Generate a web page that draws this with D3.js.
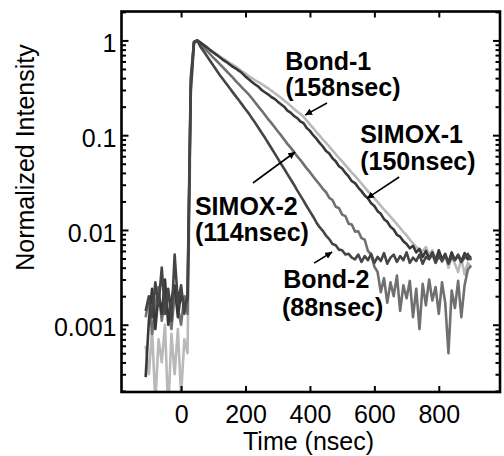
<!DOCTYPE html>
<html>
<head>
<meta charset="utf-8">
<script src="https://cdn.jsdelivr.net/npm/d3@7"></script>
<style>
  html, body { margin: 0; padding: 0; background: #fff; }
  svg { display: block; font-family: "Liberation Sans", Arial, sans-serif; }
</style>
</head>
<body>
<div id="chart"></div>
<script>
// time axis (nsec), shared by all traces
const times = [-110, -100, -90, -80, -70, -60, -50, -40, -30, -20, -10, 0, 10, 20,
  30, 40,
  50, 60, 70, 80, 90, 100, 110, 120, 130, 140,
  150, 160, 170, 180, 190, 200, 210, 220, 230, 240,
  250, 260, 270, 280, 290, 300, 310, 320, 330, 340,
  350, 360, 370, 380, 390, 400, 410, 420, 430, 440,
  450, 460, 470, 480, 490, 500, 510, 520, 530, 540,
  550, 560, 570, 580, 590, 600, 610, 620, 630, 640,
  650, 660, 670, 680, 690, 700, 710, 720, 730, 740,
  750, 760, 770, 780, 790, 800, 810, 820, 830, 840, 850, 860, 870, 880, 890, 900];

// normalized intensity
const bond1 = [0.0006, 0.0003, 0.0009, 0.00015, 0.0007, 0.0004, 0.001, 0.00012, 0.0008, 0.0003, 0.0009, 0.00018, 0.0007, 0.0005,
  0.25, 0.92,
  1.0, 0.955, 0.90, 0.85, 0.80, 0.76, 0.72, 0.68, 0.645, 0.615,
  0.58, 0.555, 0.53, 0.50, 0.47, 0.447, 0.42, 0.40, 0.38, 0.363,
  0.347, 0.33, 0.313, 0.295, 0.279, 0.263, 0.248, 0.232, 0.219, 0.204,
  0.19, 0.178, 0.168, 0.157, 0.143, 0.130, 0.119, 0.108, 0.099, 0.090,
  0.083, 0.076, 0.069, 0.063, 0.0575, 0.053, 0.0484, 0.0442, 0.0403, 0.0372,
  0.0339, 0.0309, 0.0282, 0.0257, 0.0234, 0.0216, 0.0197, 0.0180, 0.0164, 0.0151,
  0.0138, 0.0126, 0.0115, 0.0105, 0.0095, 0.0088, 0.0079, 0.0072, 0.0066, 0.0062,
  0.0060, 0.0066, 0.0054, 0.0061, 0.0050, 0.0057, 0.0046, 0.0055, 0.0040, 0.0052, 0.0044, 0.0036, 0.0050, 0.0034, 0.0045, 0.0040];

const simox1 = [0.00028, 0.0011, 0.0024, 0.0009, 0.0021, 0.0013, 0.0030, 0.0010, 0.0019, 0.0026, 0.0012, 0.0022, 0.0015, 0.0019,
  0.30, 0.95,
  1.0, 0.95, 0.895, 0.845, 0.79, 0.745, 0.705, 0.665, 0.625, 0.595,
  0.56, 0.53, 0.505, 0.478, 0.45, 0.415, 0.39, 0.365, 0.343, 0.325,
  0.30, 0.284, 0.27, 0.253, 0.242, 0.226, 0.212, 0.20, 0.182, 0.173,
  0.160, 0.152, 0.140, 0.134, 0.119, 0.111, 0.100, 0.092, 0.083, 0.076,
  0.068, 0.064, 0.057, 0.053, 0.047, 0.0445, 0.040, 0.0367, 0.0327, 0.0312,
  0.028, 0.0257, 0.0231, 0.0216, 0.0191, 0.0179, 0.0158, 0.0148, 0.0130, 0.0122,
  0.0108, 0.0101, 0.0089, 0.0085, 0.0076, 0.0071, 0.0064, 0.0068, 0.0058, 0.0063,
  0.0052, 0.0060, 0.0050, 0.0058, 0.0047, 0.0061, 0.0049, 0.0056, 0.0045, 0.0058, 0.0048, 0.0054, 0.0046, 0.0057, 0.0049, 0.0053];

const simox2 = [0.0012, 0.0019, 0.0008, 0.0016, 0.0025, 0.0011, 0.0018, 0.0014, 0.0009, 0.0021, 0.0015, 0.0010, 0.0020, 0.0013,
  0.35, 0.96,
  1.0, 0.91, 0.84, 0.776, 0.716, 0.66, 0.61, 0.562, 0.519, 0.479,
  0.442, 0.407, 0.372, 0.343, 0.316, 0.292, 0.269, 0.245, 0.221, 0.20,
  0.182, 0.164, 0.148, 0.135, 0.122, 0.110, 0.100, 0.090, 0.081, 0.074,
  0.067, 0.060, 0.055, 0.0495, 0.0447, 0.0407, 0.0367, 0.0331, 0.0302, 0.0272,
  0.0250, 0.0218, 0.0207, 0.0176, 0.0170, 0.0145, 0.0140, 0.0116, 0.0114, 0.0096,
  0.0097, 0.0082, 0.0079, 0.0060, 0.0055, 0.0041, 0.0036, 0.0022, 0.0031, 0.0017,
  0.0028, 0.0020, 0.0033, 0.0014, 0.0026, 0.0019, 0.0029, 0.0012, 0.0024, 0.0009,
  0.0027, 0.0016, 0.0030, 0.0018, 0.0025, 0.0013, 0.0028, 0.0017, 0.0005, 0.0023, 0.0015, 0.0029, 0.0012, 0.0026, 0.0038, 0.0042];

const bond2 = [0.0014, 0.0020, 0.0012, 0.0028, 0.0016, 0.0040, 0.0013, 0.0024, 0.0011, 0.0055, 0.0017, 0.0026, 0.0013, 0.0022,
  0.40, 0.97,
  1.0, 0.86, 0.767, 0.684, 0.61, 0.543, 0.484, 0.431, 0.389, 0.351,
  0.316, 0.285, 0.257, 0.232, 0.209, 0.188, 0.17, 0.151, 0.135, 0.120,
  0.106, 0.0944, 0.0832, 0.0733, 0.0646, 0.0569, 0.050, 0.0442, 0.0389, 0.0343,
  0.0302, 0.0263, 0.0232, 0.0204, 0.0178, 0.0157, 0.0138, 0.0120, 0.0107, 0.0098,
  0.0087, 0.0080, 0.0071, 0.0069, 0.0062, 0.0061, 0.0055, 0.0056, 0.0051, 0.0049,
  0.0055, 0.0046, 0.0053, 0.0048, 0.0056, 0.0045, 0.0052, 0.0047, 0.0057, 0.0044,
  0.0051, 0.0055, 0.0046, 0.0053, 0.0048, 0.0058, 0.0045, 0.0051, 0.0047, 0.0055,
  0.0044, 0.0052, 0.0049, 0.0056, 0.0045, 0.0053, 0.0047, 0.0054, 0.0044, 0.0052, 0.0048, 0.0055, 0.0046, 0.0051, 0.0056, 0.0048];

const xTicks = [0, 200, 400, 600, 800];
const yTicks = [1, 0.1, 0.01, 0.001];

// labels: name, lifetime, text anchor (time, intensity), arrow from -> to
const notes = [
  { name: 'Bond-1', life: '(158nsec)', at: [323, 0.488], sub: [323, 0.259], from: [453, 0.219], to: [385, 0.163] },
  { name: 'SIMOX-1', life: '(150nsec)', at: [556, 0.0828], sub: [556, 0.043], from: [677, 0.0362], to: [577, 0.0215] },
  { name: 'SIMOX-2', life: '(114nsec)', at: [43, 0.01436], sub: [43, 0.00763], from: [223, 0.0313], to: [354, 0.0665] },
  { name: 'Bond-2', life: '(88nsec)', at: [317, 0.00245], sub: [313, 0.00125], from: [413, 0.00447], to: [469, 0.00585] }
];

// draw order: light first, darks on top
const traces = [
  { key: 'Bond-1', values: bond1, color: '#b9b9b9' },
  { key: 'SIMOX-2', values: simox2, color: '#707070' },
  { key: 'SIMOX-1', values: simox1, color: '#383838' },
  { key: 'Bond-2', values: bond2, color: '#454545' }
];

const W = 504, H = 456;
const plot = { left: 121.5, right: 500, top: 11.5, bottom: 392 };

const svg = d3.select('#chart').append('svg')
  .attr('width', W).attr('height', H);

const x = d3.scaleLinear().domain([-185, 990]).range([plot.left, plot.right]);
const y = d3.scaleLog().domain([0.000195, 2.02]).range([plot.bottom, plot.top]);

svg.append('clipPath').attr('id', 'clip')
  .append('rect')
  .attr('x', plot.left).attr('y', plot.top)
  .attr('width', plot.right - plot.left).attr('height', plot.bottom - plot.top);

const line = d3.line()
  .x((d, i) => x(times[i]))
  .y(d => y(d));

svg.append('g').attr('clip-path', 'url(#clip)')
  .selectAll('path')
  .data(traces)
  .enter()
  .append('path')
  .attr('d', d => line(d.values))
  .attr('fill', 'none')
  .attr('stroke', d => d.color)
  .attr('stroke-width', 2.6)
  .attr('stroke-linejoin', 'round');

// minor log ticks
const minors = [];
[0.0001, 0.001, 0.01, 0.1, 1].forEach(dec => {
  for (let k = 2; k <= 9; k++) {
    const v = dec * k;
    if (v > y.domain()[0] && v < y.domain()[1]) minors.push(v);
  }
});

const fontSize = 25;

// bottom axis
const gx = svg.append('g')
  .attr('transform', `translate(0,${plot.bottom})`)
  .call(d3.axisBottom(x).tickValues(xTicks).tickSize(-6).tickPadding(13.5));
// top axis
const gxt = svg.append('g')
  .attr('transform', `translate(0,${plot.top})`)
  .call(d3.axisTop(x).tickValues(xTicks).tickSize(-6).tickFormat(''));
// left axis
const gy = svg.append('g')
  .attr('transform', `translate(${plot.left},0)`)
  .call(d3.axisLeft(y).tickValues(yTicks).tickSize(-7).tickPadding(5).tickFormat(d => String(d)));
const gym = svg.append('g')
  .attr('transform', `translate(${plot.left},0)`)
  .call(d3.axisLeft(y).tickValues(minors).tickSize(-4.5).tickFormat(''));
// right axis
const gyr = svg.append('g')
  .attr('transform', `translate(${plot.right},0)`)
  .call(d3.axisRight(y).tickValues(yTicks).tickSize(-7).tickFormat(''));
const gyrm = svg.append('g')
  .attr('transform', `translate(${plot.right},0)`)
  .call(d3.axisRight(y).tickValues(minors).tickSize(-4.5).tickFormat(''));

[gx, gxt, gy, gym, gyr, gyrm].forEach(g => {
  g.select('.domain').remove();
  g.selectAll('.tick line').attr('stroke', '#000').attr('stroke-width', 2);
  g.selectAll('.tick text')
    .attr('fill', '#000')
    .style('font-size', fontSize + 'px')
    .style('font-family', '"Liberation Sans", Arial, sans-serif');
});
gy.selectAll('.tick text').attr('dy', '0.45em');

// frame
svg.append('rect')
  .attr('x', plot.left).attr('y', plot.top)
  .attr('width', plot.right - plot.left).attr('height', plot.bottom - plot.top)
  .attr('fill', 'none').attr('stroke', '#000').attr('stroke-width', 2.6);

// axis titles
svg.append('text')
  .attr('x', 308.5).attr('y', 450)
  .attr('text-anchor', 'middle')
  .style('font-size', fontSize + 'px')
  .text('Time (nsec)');

svg.append('text')
  .attr('transform', 'translate(34,157.5) rotate(-90)')
  .attr('text-anchor', 'middle')
  .style('font-size', fontSize + 'px')
  .text('Normalized Intensity');

// arrowhead
svg.append('defs').append('marker')
  .attr('id', 'head')
  .attr('viewBox', '0 0 10 10')
  .attr('refX', 10).attr('refY', 5)
  .attr('markerWidth', 7).attr('markerHeight', 7)
  .attr('markerUnits', 'userSpaceOnUse')
  .attr('orient', 'auto')
  .append('path')
  .attr('d', 'M0,0L10,5L0,10Z')
  .attr('fill', '#000');

const ann = svg.append('g');
ann.selectAll('line')
  .data(notes)
  .enter()
  .append('line')
  .attr('x1', d => x(d.from[0])).attr('y1', d => y(d.from[1]))
  .attr('x2', d => x(d.to[0])).attr('y2', d => y(d.to[1]))
  .attr('stroke', '#000').attr('stroke-width', 1.6)
  .attr('marker-end', 'url(#head)');

ann.selectAll('text.name')
  .data(notes)
  .enter()
  .append('text')
  .attr('class', 'name')
  .attr('x', d => x(d.at[0])).attr('y', d => y(d.at[1]))
  .style('font-size', fontSize + 'px').style('font-weight', 'bold')
  .text(d => d.name);

ann.selectAll('text.life')
  .data(notes)
  .enter()
  .append('text')
  .attr('class', 'life')
  .attr('x', d => x(d.sub[0])).attr('y', d => y(d.sub[1]))
  .style('font-size', fontSize + 'px').style('font-weight', 'bold')
  .text(d => d.life);
</script>
</body>
</html>
